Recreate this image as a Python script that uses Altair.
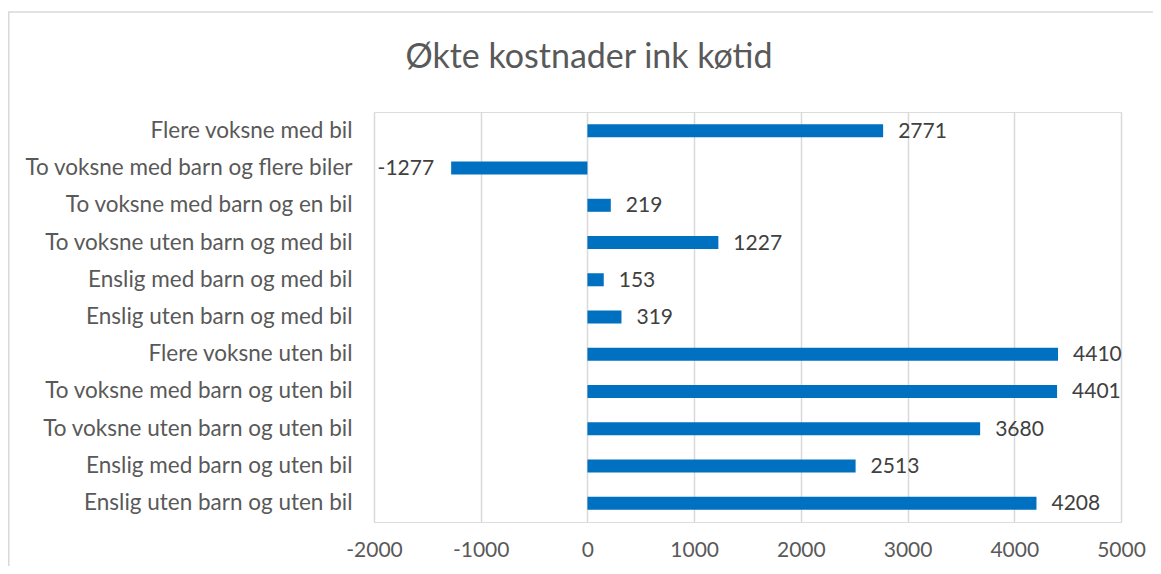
import altair as alt
import pandas as pd

title_text = "Økte kostnader ink køtid"
categories = [
    "Flere voksne med bil",
    "To voksne med barn og flere biler",
    "To voksne med barn og en bil",
    "To voksne uten barn og med bil",
    "Enslig med barn og med bil",
    "Enslig uten barn og med bil",
    "Flere voksne uten bil",
    "To voksne med barn og uten bil",
    "To voksne uten barn og uten bil",
    "Enslig med barn og uten bil",
    "Enslig uten barn og uten bil",
]
values = [2771, -1277, 219, 1227, 153, 319, 4410, 4401, 3680, 2513, 4208]
x_ticks = [-2000, -1000, 0, 1000, 2000, 3000, 4000, 5000]

df = pd.DataFrame({"kategori": categories, "verdi": values})

FONT = "Lato"
W, H = 747, 410
PL, PT = 366, 104
OX, OY = 8 + PL, 8 + PT  # page position of the plot origin

x_enc = alt.X("verdi:Q", scale=alt.Scale(domain=[-2000, 5000], nice=False, zero=False),
              axis=alt.Axis(values=x_ticks, title=None, grid=True, gridColor="#d9d9d9",
                            gridWidth=1.5, domain=False, ticks=False, labelFontSize=21,
                            labelColor="#595959", labelFont=FONT, labelPadding=17,
                            labelFlush=False, labelExpr="'' + datum.value"))
y_enc = alt.Y("kategori:N", sort=categories,
              scale=alt.Scale(paddingInner=0.65, paddingOuter=0.33),
              axis=alt.Axis(title=None, domain=False, ticks=False, labelFontSize=22.5,
                            labelColor="#595959", labelFont=FONT, labelPadding=22,
                            labelLimit=420))

base = alt.Chart(df).transform_calculate(lbl="'' + datum.verdi")

frame = alt.Chart(pd.DataFrame({"t": [title_text]})).mark_rect(
    fill=None, stroke="#d9d9d9", strokeWidth=1.5
).encode(x=alt.value(8.8 - OX), x2=alt.value(W + 60),
         y=alt.value(12 - OY), y2=alt.value(H + 80))

title = alt.Chart(pd.DataFrame({"t": [title_text]})).mark_text(
    fontSize=34, font=FONT, color="#595959", align="center", baseline="middle"
).encode(x=alt.value(589 - OX), y=alt.value(58 - OY), text="t:N")

bars = base.mark_bar(color="#0070C0").encode(x=x_enc, y=y_enc)

pos_labels = base.transform_filter(alt.datum.verdi >= 0).mark_text(
    align="left", baseline="middle", dx=15, dy=1, fontSize=21, font=FONT, color="#404040"
).encode(x="verdi:Q", y=alt.Y("kategori:N", sort=categories), text="lbl:N")

neg_labels = base.transform_filter(alt.datum.verdi < 0).mark_text(
    align="right", baseline="middle", dx=-17, dy=1, fontSize=21, font=FONT, color="#404040"
).encode(x="verdi:Q", y=alt.Y("kategori:N", sort=categories), text="lbl:N")

chart = alt.layer(frame, title, bars, pos_labels, neg_labels).properties(
    width=W, height=H,
    autosize=alt.AutoSizeParams(type="none"),
    padding={"left": PL, "top": PT, "right": 1161 - 16 - PL - W, "bottom": 574 - 16 - PT - H},
).configure_view(stroke=None).configure(background="white")

chart.save("out.html", embed_options={"renderer": "svg", "actions": False})
